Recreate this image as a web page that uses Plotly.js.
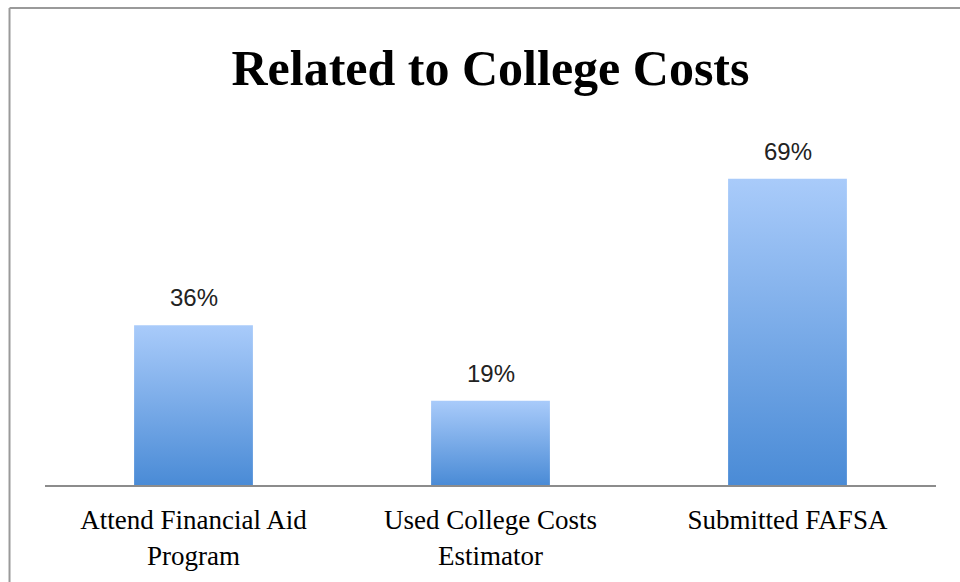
<!DOCTYPE html>
<html>
<head>
<meta charset="utf-8">
<script src="https://cdn.plot.ly/plotly-3.0.1.min.js"></script>
<style>
html,body{margin:0;padding:0;background:#fff;}
#chart{width:960px;height:582px;}
</style>
</head>
<body>
<div id="chart"></div>
<script>
const categories = ["Attend Financial Aid<br>Program", "Used College Costs<br>Estimator", "Submitted FAFSA"];
const values = [36, 19, 69];
const valueLabels = ["36%", "19%", "69%"];
const chartTitle = "Related to College Costs";

const trace = {
  type: "bar",
  x: categories,
  y: values,
  marker: {color: "#7aaae8", line: {width: 0}},
  hoverinfo: "none"
};

const annotations = categories.map((c, i) => ({
  x: c, y: values[i], xref: "x", yref: "y",
  text: valueLabels[i], showarrow: false,
  yanchor: "bottom", yshift: 12,
  font: {family: "Liberation Sans, Arial, sans-serif", size: 24, color: "#222"}
}));

const bx = (9 - 44.5) / 891.5;
const by = (485 - 8) / 355;

const layout = {
  width: 960, height: 582,
  margin: {l: 44.5, r: 24, t: 130, b: 97, pad: 0},
  paper_bgcolor: "#fff", plot_bgcolor: "#fff",
  showlegend: false,
  bargap: 0.6,
  title: {
    text: "<b>" + chartTitle + "</b>",
    font: {family: "Liberation Serif, Times New Roman, serif", size: 50, color: "#000"},
    x: 0.5, xref: "paper", xanchor: "center",
    y: 1 - 67 / 582, yref: "container", yanchor: "middle"
  },
  xaxis: {
    type: "category",
    showline: true, linecolor: "#8c8c8c", linewidth: 2,
    ticks: "", showgrid: false, zeroline: false,
    tickfont: {family: "Liberation Serif, Times New Roman, serif", size: 27, color: "#000"},
    ticklabelstandoff: 10
  },
  yaxis: {
    range: [0, 80], visible: false, showgrid: false, zeroline: false, fixedrange: true
  },
  annotations: annotations,
  shapes: [
    {type: "line", xref: "paper", yref: "paper", x0: bx, x1: bx, y0: -0.5, y1: by,
     line: {color: "#9a9a9a", width: 2}},
    {type: "line", xref: "paper", yref: "paper", x0: bx, x1: 1.2, y0: by, y1: by,
     line: {color: "#9a9a9a", width: 2}}
  ]
};

const gd = document.getElementById("chart");
function applyGradient() {
  const svg = gd.querySelector("svg.main-svg");
  if (!svg) return;
  let defs = svg.querySelector("defs");
  if (!defs) { defs = document.createElementNS("http://www.w3.org/2000/svg", "defs"); svg.insertBefore(defs, svg.firstChild); }
  if (!svg.querySelector("#barGrad")) {
    const g = document.createElementNS("http://www.w3.org/2000/svg", "linearGradient");
    g.setAttribute("id", "barGrad");
    g.setAttribute("x1", "0"); g.setAttribute("y1", "0");
    g.setAttribute("x2", "0"); g.setAttribute("y2", "1");
    [["0%", "#a9cbfa"], ["100%", "#4a8bd6"]].forEach(([o, c]) => {
      const s = document.createElementNS("http://www.w3.org/2000/svg", "stop");
      s.setAttribute("offset", o); s.setAttribute("stop-color", c);
      g.appendChild(s);
    });
    defs.appendChild(g);
  }
  gd.querySelectorAll(".bars .point path").forEach(p => { p.style.fill = "url(#barGrad)"; });
}
Plotly.newPlot(gd, [trace], layout, {staticPlot: true, displayModeBar: false}).then(() => {
  applyGradient();
  gd.on("plotly_afterplot", applyGradient);
});
</script>
</body>
</html>
